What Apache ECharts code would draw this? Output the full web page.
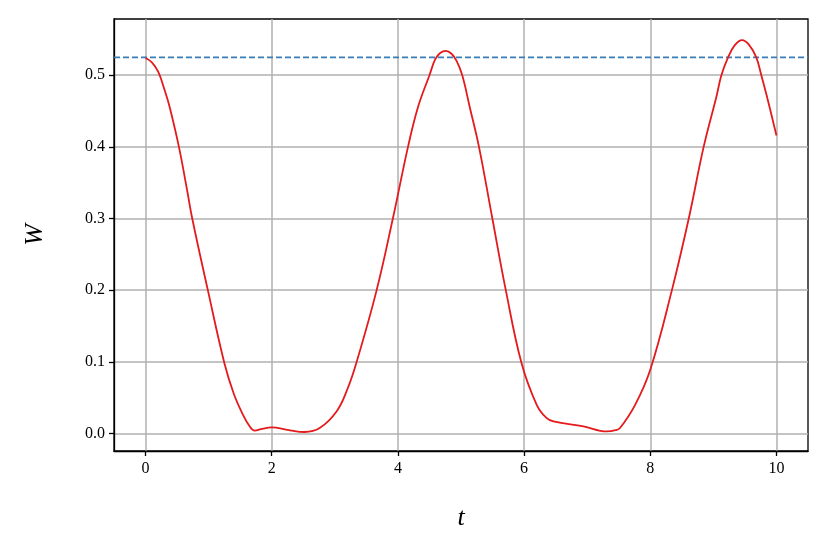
<!DOCTYPE html>
<html>
<head>
<meta charset="utf-8">
<script src="https://cdn.jsdelivr.net/npm/echarts@6/dist/echarts.min.js"></script>
<style>html,body{margin:0;padding:0;background:#fff}#c{width:829px;height:554px}</style>
</head>
<body>
<div id="c"></div>
<script>
const tValues = [0, 0.1, 0.2, 0.3, 0.381, 0.529, 0.66, 0.74, 0.99, 1.25, 1.4, 1.545, 1.65, 1.73, 1.85, 2.0, 2.25, 2.52, 2.76, 3.03, 3.2, 3.34, 3.66, 3.92, 4.16, 4.32, 4.50, 4.59, 4.67, 4.76, 4.85, 4.93, 5.02, 5.14, 5.285, 5.497, 5.71, 5.96, 6.2, 6.35, 6.465, 6.94, 7.31, 7.45, 7.52, 7.76, 8.0, 8.34, 8.61, 8.846, 9.048, 9.127, 9.233, 9.34, 9.455, 9.56, 9.68, 9.76, 9.85, 10.0];
const wValues = [0.524, 0.518, 0.505, 0.48, 0.456, 0.40, 0.339, 0.30, 0.199, 0.098, 0.055, 0.026, 0.010, 0.004, 0.0065, 0.0084, 0.005, 0.002, 0.0075, 0.031, 0.062, 0.098, 0.199, 0.30, 0.40, 0.456, 0.50, 0.522, 0.531, 0.534, 0.530, 0.52, 0.50, 0.455, 0.40, 0.30, 0.20, 0.098, 0.040, 0.022, 0.0168, 0.0098, 0.0028, 0.0045, 0.0075, 0.040, 0.089, 0.199, 0.30, 0.40, 0.470, 0.50, 0.525, 0.542, 0.549, 0.543, 0.525, 0.50, 0.470, 0.416];
const referenceLevel = 0.525;
const xTicks = [0, 2, 4, 6, 8, 10];
const yTicks = [0.0, 0.1, 0.2, 0.3, 0.4, 0.5];
const xRange = [-0.5, 10.5];
const yRange = [-0.0245, 0.5785];

const curve = tValues.map((t, i) => [t, wValues[i]]);
const refLine = [[xRange[0], referenceLevel], [xRange[1], referenceLevel]];

const font = 'Liberation Serif';
const chart = echarts.init(document.getElementById('c'));
chart.setOption({
  animation: false,
  grid: { left: 114, right: 21, top: 19, bottom: 103, show: true, borderColor: '#000', borderWidth: 1.3, backgroundColor: 'transparent' },
  xAxis: {
    type: 'value', min: xRange[0], max: xRange[1],
    name: 't', nameLocation: 'middle', nameGap: 54,
    nameTextStyle: { fontFamily: font, fontStyle: 'italic', fontSize: 26, color: '#000' },
    axisLine: { show: true, onZero: false, lineStyle: { color: '#000', width: 1.3 } },
    axisTick: { show: true, length: 5, customValues: xTicks, lineStyle: { color: '#000', width: 1.3 } },
    axisLabel: { customValues: xTicks, fontFamily: font, fontSize: 16, color: '#000', margin: 10, formatter: v => String(Math.round(v)) },
    splitLine: { show: true, lineStyle: { color: '#b0b0b0', width: 1.5 } }
  },
  yAxis: {
    type: 'value', min: yRange[0], max: yRange[1],
    name: 'W', nameLocation: 'middle', nameGap: 66,
    nameTextStyle: { fontFamily: font, fontStyle: 'italic', fontSize: 26, color: '#000' },
    axisLine: { show: true, onZero: false, lineStyle: { color: '#000', width: 1.3 } },
    axisTick: { show: true, length: 5, customValues: yTicks, lineStyle: { color: '#000', width: 1.3 } },
    axisLabel: { customValues: yTicks, fontFamily: font, fontSize: 16, color: '#000', margin: 9, formatter: v => v.toFixed(1) },
    splitLine: { show: true, lineStyle: { color: '#b0b0b0', width: 1.5 } }
  },
  series: [
    { type: 'line', data: refLine, showSymbol: false, symbol: 'none', lineStyle: { color: '#377eb8', width: 1.6, type: [6, 3] }, z: 3 },
    { type: 'line', data: curve, showSymbol: false, symbol: 'none', smooth: 0.4, lineStyle: { color: '#e41a1c', width: 1.8 }, z: 4 }
  ]
});
</script>
</body>
</html>
